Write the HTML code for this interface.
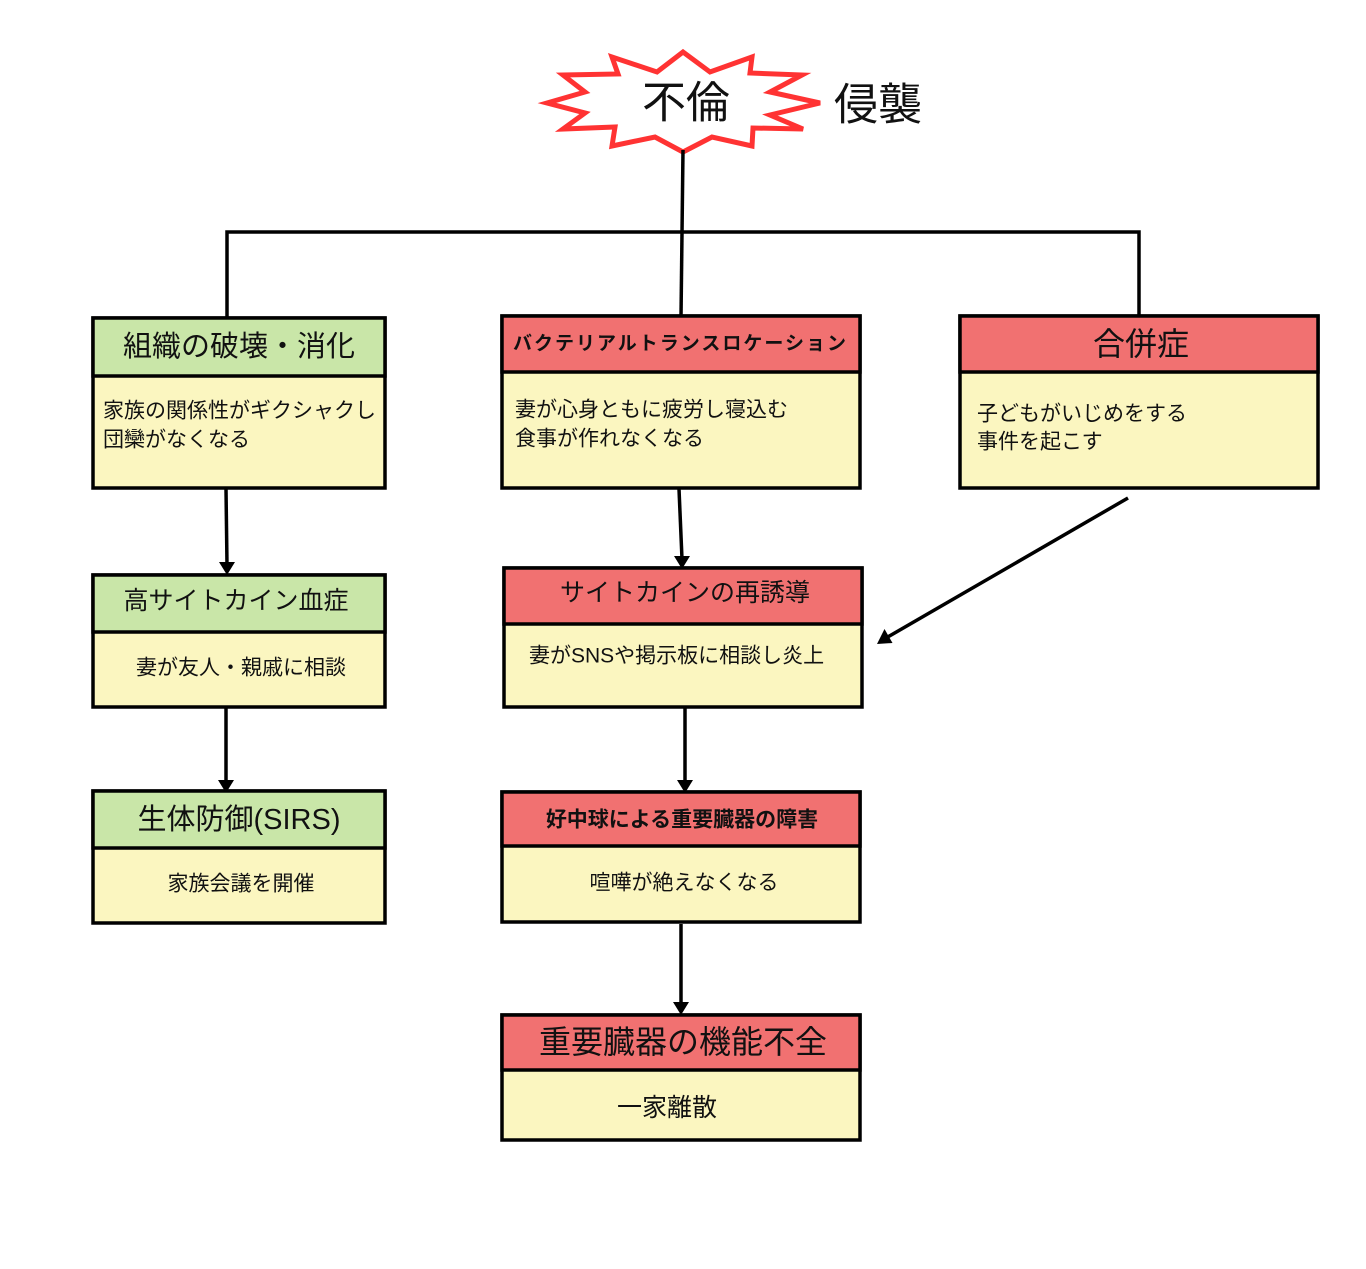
<!DOCTYPE html>
<html>
<head>
<meta charset="utf-8">
<style>
  html, body { margin:0; padding:0; background:#fff; }
  body { width:1366px; height:1269px; overflow:hidden; }
  svg { display:block; }
  text { font-family: "Liberation Sans", "Noto Sans CJK JP", sans-serif; fill:#111; }
  .b { font-weight:bold; }
</style>
</head>
<body>
<svg width="1366" height="1269" viewBox="0 0 1366 1269" xmlns="http://www.w3.org/2000/svg">
  <!-- Starburst -->
  <polygon points="683,52 710,72 752,57 750,73 802,75 770,92 820,103 770,115 803,129 753,128 752,146 712,137 683,152 655,137 612,146 615,127 563,129 585,113 547,103 585,92 563,75 618,74 612,57 657,72"
           fill="#fff" stroke="#ff3333" stroke-width="5" stroke-linejoin="miter"/>
  <text x="686" y="103" font-size="44" text-anchor="middle" dominant-baseline="central">不倫</text>
  <text x="834" y="105" font-size="44" dominant-baseline="central">侵襲</text>

  <!-- Tree connectors -->
  <g stroke="#000" stroke-width="3.5" fill="none">
    <line x1="683" y1="150" x2="681" y2="317"/>
    <polyline points="227,318 227,232 1139,232 1139,317"/>
  </g>

  <!-- Arrows -->
  <g stroke="#000" stroke-width="3.5">
    <line x1="226" y1="489" x2="227" y2="565"/>
    <line x1="226" y1="707" x2="226" y2="783"/>
    <line x1="679" y1="489" x2="682" y2="559"/>
    <line x1="685" y1="707" x2="685" y2="783"/>
    <line x1="681" y1="924" x2="681" y2="1005"/>
    <line x1="1128" y1="498" x2="886" y2="638"/>
  </g>
  <g fill="#000">
    <polygon points="219,562 235,562 227,575"/>
    <polygon points="218,780 234,780 226,793"/>
    <polygon points="674,556 690,556 682,569"/>
    <polygon points="677,780 693,780 685,793"/>
    <polygon points="673,1002 689,1002 681,1015"/>
    <polygon points="877,644 892.5,643 884.5,629"/>
  </g>

  <!-- Boxes -->
  <g stroke="#000" stroke-width="3.5">
    <rect x="93" y="318" width="292" height="170" fill="#fbf6c0"/>
    <rect x="93" y="318" width="292" height="58" fill="#c9e6a8"/>
    <rect x="502" y="316" width="358" height="172" fill="#fbf6c0"/>
    <rect x="502" y="316" width="358" height="56" fill="#f17171"/>
    <rect x="960" y="316" width="358" height="172" fill="#fbf6c0"/>
    <rect x="960" y="316" width="358" height="56" fill="#f17171"/>
    <rect x="93" y="575" width="292" height="132" fill="#fbf6c0"/>
    <rect x="93" y="575" width="292" height="57" fill="#c9e6a8"/>
    <rect x="93" y="791" width="292" height="132" fill="#fbf6c0"/>
    <rect x="93" y="791" width="292" height="57" fill="#c9e6a8"/>
    <rect x="504" y="568" width="358" height="139" fill="#fbf6c0"/>
    <rect x="504" y="568" width="358" height="56" fill="#f17171"/>
    <rect x="502" y="792" width="358" height="130" fill="#fbf6c0"/>
    <rect x="502" y="792" width="358" height="54" fill="#f17171"/>
    <rect x="502" y="1015" width="358" height="125" fill="#fbf6c0"/>
    <rect x="502" y="1015" width="358" height="55" fill="#f17171"/>
  </g>

  <!-- Box texts -->
  <text x="239" y="347" font-size="29" text-anchor="middle" dominant-baseline="central">組織の破壊・消化</text>
  <text x="103" y="411" font-size="21" dominant-baseline="central">家族の関係性がギクシャクし</text>
  <text x="103" y="440" font-size="21" dominant-baseline="central">団欒がなくなる</text>

  <text x="513" y="344" font-size="19" class="b" letter-spacing="2" dominant-baseline="central">バクテリアルトランスロケーション</text>
  <text x="515" y="410" font-size="21" dominant-baseline="central">妻が心身ともに疲労し寝込む</text>
  <text x="515" y="439" font-size="21" dominant-baseline="central">食事が作れなくなる</text>

  <text x="1141" y="344" font-size="32" text-anchor="middle" dominant-baseline="central">合併症</text>
  <text x="977" y="414" font-size="21" dominant-baseline="central">子どもがいじめをする</text>
  <text x="977" y="442" font-size="21" dominant-baseline="central">事件を起こす</text>

  <text x="236" y="601" font-size="25" text-anchor="middle" dominant-baseline="central">高サイトカイン血症</text>
  <text x="241" y="668" font-size="21" text-anchor="middle" dominant-baseline="central">妻が友人・親戚に相談</text>

  <text x="239" y="820" font-size="29" text-anchor="middle" dominant-baseline="central">生体防御(SIRS)</text>
  <text x="241" y="884" font-size="21" text-anchor="middle" dominant-baseline="central">家族会議を開催</text>

  <text x="685" y="593" font-size="25" text-anchor="middle" dominant-baseline="central">サイトカインの再誘導</text>
  <text x="529" y="656" font-size="21" dominant-baseline="central">妻がSNSや掲示板に相談し炎上</text>

  <text x="682" y="820" font-size="21" class="b" text-anchor="middle" dominant-baseline="central">好中球による重要臓器の障害</text>
  <text x="684" y="883" font-size="21" text-anchor="middle" dominant-baseline="central">喧嘩が絶えなくなる</text>

  <text x="683" y="1042" font-size="32" text-anchor="middle" dominant-baseline="central">重要臓器の機能不全</text>
  <text x="617" y="1108" font-size="25" dominant-baseline="central">一家離散</text>
</svg>
</body>
</html>
